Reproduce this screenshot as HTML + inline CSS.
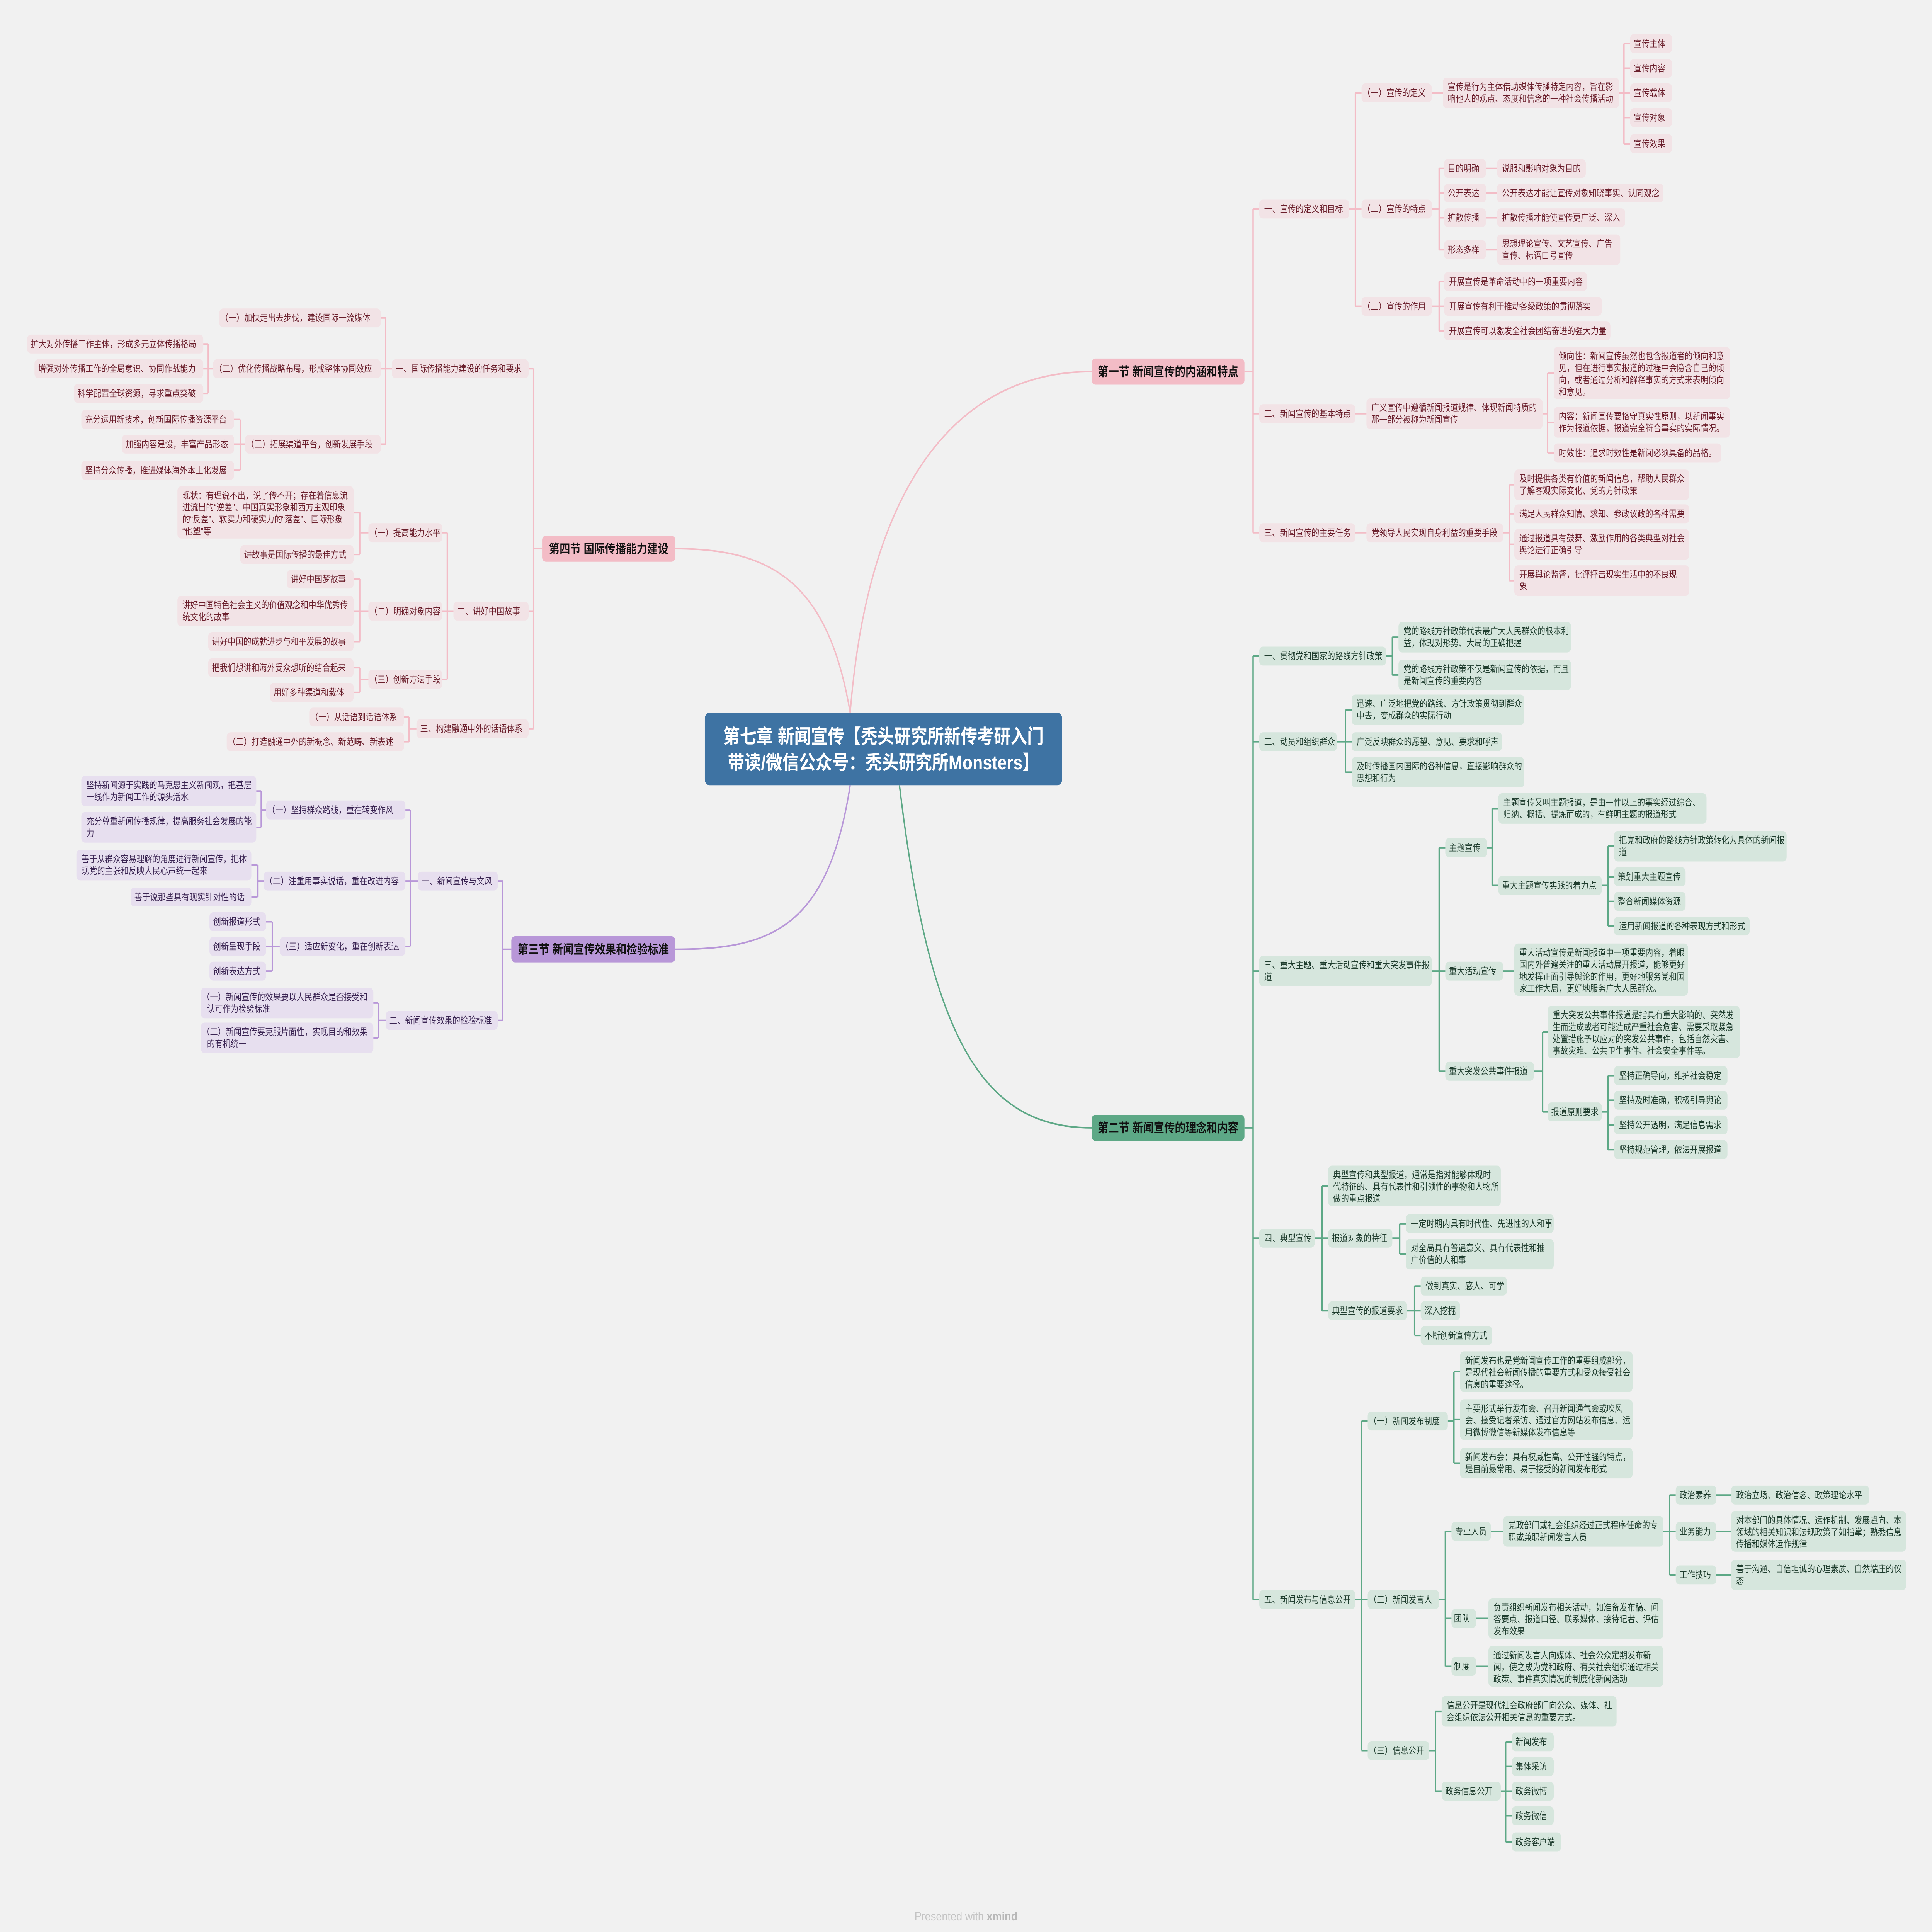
<!DOCTYPE html>
<html><head><meta charset="utf-8"><style>
html,body{margin:0;padding:0;background:#f1f1f1;width:100vw;height:100vh;overflow:hidden}
svg{display:block;overflow:hidden;width:100vw;height:100vh}
text{font-family:"Liberation Sans","Noto Sans CJK SC",sans-serif;font-size:6.4px}
.p rect{fill:#f2e3e6}.p text{fill:#6b1f2c}
.g rect{fill:#d6e6dd}.g text{fill:#1f3d2e}
.u rect{fill:#e7dfef}.u text{fill:#3b2553}
.lp{stroke:#f3bcc6;fill:none;stroke-width:1.1}
.lg{stroke:#5da886;fill:none;stroke-width:1.1}
.lu{stroke:#b897d8;fill:none;stroke-width:1.1}
.sec text{font-size:8.6px;font-weight:bold;fill:#111;text-anchor:middle}
</style></head><body>
<svg viewBox="0 0 1568 1331" preserveAspectRatio="none" xmlns="http://www.w3.org/2000/svg">
<rect width="1568" height="1331" fill="#f1f1f1"/>
<path class="lp" stroke-width="1.4" d="M690,491 C705,330 780,256 886,256"/>
<path class="lp" stroke-width="1.4" d="M690,491 C672,400 625,378 548,378"/>
<path class="lg" stroke-width="1.4" d="M730,541 C755,720 800,777 886,777"/>
<path class="lu" stroke-width="1.4" d="M690,541 C672,640 625,654 548,654"/>

<path class="lp" d="M1010,256H1017M1017,144V367M1017,144H1022M1017,285H1022M1017,367H1022
M1095,144H1100M1100,64V211M1100,64H1105M1100,144H1105M1100,211H1105
M1162,64H1171M1314,64H1318M1318,30V99M1318,30H1323M1318,47H1323M1318,64H1323M1318,81H1323M1318,99H1323
M1162,144H1168M1168,116V172M1168,116H1172M1168,133H1172M1168,150H1172M1168,172H1172
M1206,116H1215M1206,133H1215M1206,150H1215M1206,172H1215
M1162,211H1168M1168,194V228M1168,194H1172M1168,211H1172M1168,228H1172
M1100,285H1109M1252,285H1256M1256,257V312M1256,257H1261M1256,291H1261M1256,312H1261
M1100,367H1109M1220,367H1225M1225,334V400M1225,334H1229M1225,354H1229M1225,375H1229M1225,400H1229"/>
<path class="lg" d="M1010,777H1017M1017,452V1102M1017,452H1022M1017,511H1022M1017,669H1022M1017,853H1022M1017,1102H1022
M1125,452H1130M1130,439V465M1130,439H1135M1130,465H1135
M1085,511H1092M1092,489V532M1092,489H1097M1092,511H1097M1092,532H1097
M1162,669H1168M1168,584V738M1168,584H1173M1168,669H1173M1168,738H1173
M1207,584H1211M1211,557V610M1211,557H1216M1211,610H1216
M1300,610H1305M1305,583V638M1305,583H1310M1305,604H1310M1305,621H1310M1305,638H1310
M1220,669H1229
M1245,738H1252M1252,711V766M1252,711H1256M1252,766H1256
M1300,766H1305M1305,741V792M1305,741H1310M1305,758H1310M1305,775H1310M1305,792H1310
M1067,853H1073M1073,817V903M1073,817H1078M1073,853H1078M1073,903H1078
M1130,853H1136M1136,843V864M1136,843H1141M1136,864H1141
M1142,903H1148M1148,886V920M1148,886H1153M1148,903H1153M1148,920H1153
M1100,1102H1105M1105,979V1206M1105,979H1110M1105,1102H1110M1105,1206H1110
M1175,979H1180M1180,945V1008M1180,945H1185M1180,978H1185M1180,1008H1185
M1168,1102H1173M1173,1055V1148M1173,1055H1178M1173,1115H1178M1173,1148H1178
M1210,1055H1220M1350,1055H1355M1355,1030V1085M1355,1030H1360M1355,1055H1360M1355,1085H1360
M1393,1030H1405M1393,1055H1405M1393,1085H1405
M1198,1115H1208M1198,1148H1208
M1160,1206H1165M1165,1179V1234M1165,1179H1170M1165,1234H1170
M1218,1234H1222M1222,1200V1269M1222,1200H1227M1222,1217H1227M1222,1234H1227M1222,1251H1227M1222,1269H1227"/>
<path class="lu" d="M415,654H408M408,607V703M408,607H404M408,703H404
M339,607H333M333,558V652M333,558H329M333,607H329M333,652H329
M218,558H212M212,545V570M212,545H208M212,570H208
M216,607H209M209,596V618M209,596H204M209,618H204
M229,652H221M221,635V669M221,635H216M221,652H216M221,669H216
M313,703H307M307,691V715M307,691H303M307,715H303"/>
<path class="lp" d="M440,378H433M433,254V502M433,254H429M433,421H429M433,502H429
M318,254H313M313,219V306M313,219H309M313,254H309M313,306H309
M175,254H169M169,237V271M169,237H165M169,254H165M169,271H165
M201,306H195M195,289V324M195,289H190M195,306H190M195,324H190
M368,421H363M363,367V468M363,367H359M363,421H359M363,468H359
M299,367H292M292,353V382M292,353H287M292,382H287
M299,421H292M292,399V442M292,399H287M292,421H287M292,442H287
M299,468H292M292,460V477M292,460H287M292,477H287
M338,502H332M332,494V511M332,494H328M332,511H328"/>

<rect x="572" y="491" width="290" height="50" rx="4" fill="#3e73a3"/>
<text x="717" y="512" text-anchor="middle" style="font-size:13.5px;font-weight:bold;fill:#fff">第七章 新闻宣传【秃头研究所新传考研入门</text>
<text x="717" y="530" text-anchor="middle" style="font-size:13.5px;font-weight:bold;fill:#fff">带读/微信公众号：秃头研究所Monsters】</text>

<g class="sec">
<rect x="886" y="247" width="124" height="18" rx="3" fill="#f3bcc6"/><text x="948" y="259">第一节 新闻宣传的内涵和特点</text>
<rect x="886" y="768" width="124" height="18" rx="3" fill="#5da886"/><text x="948" y="780">第二节 新闻宣传的理念和内容</text>
<rect x="415" y="645" width="133" height="18" rx="3" fill="#b897d8"/><text x="481.5" y="657">第三节 新闻宣传效果和检验标准</text>
<rect x="440" y="369" width="108" height="18" rx="3" fill="#f3bcc6"/><text x="494" y="381">第四节 国际传播能力建设</text>
</g>

<g class="p">
<rect x="1022" y="137.5" width="73" height="13" rx="3"/><text x="1026" y="146.2">一、宣传的定义和目标</text>
<rect x="1105" y="57.5" width="57" height="13" rx="3"/><text x="1106" y="66.2">（一）宣传的定义</text>
<rect x="1171" y="53.5" width="143" height="21" rx="3"/><text x="1175" y="62">宣传是行为主体借助媒体传播特定内容，旨在影<tspan x="1175" dy="8.2">响他人的观点、态度和信念的一种社会传播活动</tspan></text>
<rect x="1323" y="23.5" width="34" height="13" rx="3"/><text x="1326" y="32.2">宣传主体</text>
<rect x="1323" y="40.5" width="34" height="13" rx="3"/><text x="1326" y="49.2">宣传内容</text>
<rect x="1323" y="57.5" width="34" height="13" rx="3"/><text x="1326" y="66.2">宣传载体</text>
<rect x="1323" y="74.5" width="34" height="13" rx="3"/><text x="1326" y="83.2">宣传对象</text>
<rect x="1323" y="92.5" width="34" height="13" rx="3"/><text x="1326" y="101.2">宣传效果</text>
<rect x="1105" y="137.5" width="57" height="13" rx="3"/><text x="1106" y="146.2">（二）宣传的特点</text>
<rect x="1172" y="109.5" width="34" height="13" rx="3"/><text x="1175" y="118.2">目的明确</text>
<rect x="1172" y="126.5" width="34" height="13" rx="3"/><text x="1175" y="135.2">公开表达</text>
<rect x="1172" y="143.5" width="34" height="13" rx="3"/><text x="1175" y="152.2">扩散传播</text>
<rect x="1172" y="165.5" width="34" height="13" rx="3"/><text x="1175" y="174.2">形态多样</text>
<rect x="1215" y="109.5" width="72" height="13" rx="3"/><text x="1219" y="118.2">说服和影响对象为目的</text>
<rect x="1215" y="126.5" width="135" height="13" rx="3"/><text x="1219" y="135.2">公开表达才能让宣传对象知晓事实、认同观念</text>
<rect x="1215" y="143.5" width="104" height="13" rx="3"/><text x="1219" y="152.2">扩散传播才能使宣传更广泛、深入</text>
<rect x="1215" y="161.5" width="100" height="21" rx="3"/><text x="1219" y="170">思想理论宣传、文艺宣传、广告<tspan x="1219" dy="8.2">宣传、标语口号宣传</tspan></text>
<rect x="1105" y="204.5" width="57" height="13" rx="3"/><text x="1106" y="213.2">（三）宣传的作用</text>
<rect x="1172" y="187.5" width="116" height="13" rx="3"/><text x="1176" y="196.2">开展宣传是革命活动中的一项重要内容</text>
<rect x="1172" y="204.5" width="128" height="13" rx="3"/><text x="1176" y="213.2">开展宣传有利于推动各级政策的贯彻落实</text>
<rect x="1172" y="221.5" width="135" height="13" rx="3"/><text x="1176" y="230.2">开展宣传可以激发全社会团结奋进的强大力量</text>
<rect x="1022" y="278.5" width="78" height="13" rx="3"/><text x="1026" y="287.2">二、新闻宣传的基本特点</text>
<rect x="1109" y="274.5" width="143" height="21" rx="3"/><text x="1113" y="283">广义宣传中遵循新闻报道规律、体现新闻特质的<tspan x="1113" dy="8.2">那一部分被称为新闻宣传</tspan></text>
<rect x="1261" y="239" width="143" height="36" rx="3"/><text x="1265" y="247.5">倾向性：新闻宣传虽然也包含报道者的倾向和意<tspan x="1265" dy="8.2">见，但在进行事实报道的过程中会隐含自己的倾</tspan><tspan x="1265" dy="8.2">向，或者通过分析和解释事实的方式来表明倾向</tspan><tspan x="1265" dy="8.2">和意见。</tspan></text>
<rect x="1261" y="280.5" width="143" height="21" rx="3"/><text x="1265" y="289">内容：新闻宣传要恪守真实性原则，以新闻事实<tspan x="1265" dy="8.2">作为报道依据，报道完全符合事实的实际情况。</tspan></text>
<rect x="1261" y="305.5" width="136" height="13" rx="3"/><text x="1265" y="314.2">时效性：追求时效性是新闻必须具备的品格。</text>
<rect x="1022" y="360.5" width="78" height="13" rx="3"/><text x="1026" y="369.2">三、新闻宣传的主要任务</text>
<rect x="1109" y="360.5" width="111" height="13" rx="3"/><text x="1113" y="369.2">党领导人民实现自身利益的重要手段</text>
<rect x="1229" y="323.5" width="142" height="21" rx="3"/><text x="1233" y="332">及时提供各类有价值的新闻信息，帮助人民群众<tspan x="1233" dy="8.2">了解客观实际变化、党的方针政策</tspan></text>
<rect x="1229" y="347.5" width="142" height="13" rx="3"/><text x="1233" y="356.2">满足人民群众知情、求知、参政议政的各种需要</text>
<rect x="1229" y="364.5" width="142" height="21" rx="3"/><text x="1233" y="373">通过报道具有鼓舞、激励作用的各类典型对社会<tspan x="1233" dy="8.2">舆论进行正确引导</tspan></text>
<rect x="1229" y="389.5" width="142" height="21" rx="3"/><text x="1233" y="398">开展舆论监督，批评抨击现实生活中的不良现<tspan x="1233" dy="8.2">象</tspan></text>
</g>

<g class="g">
<rect x="1022" y="445.5" width="103" height="13" rx="3"/><text x="1026" y="454.2">一、贯彻党和国家的路线方针政策</text>
<rect x="1135" y="428.5" width="140" height="21" rx="3"/><text x="1139" y="437">党的路线方针政策代表最广大人民群众的根本利<tspan x="1139" dy="8.2">益，体现对形势、大局的正确把握</tspan></text>
<rect x="1135" y="454.5" width="140" height="21" rx="3"/><text x="1139" y="463">党的路线方针政策不仅是新闻宣传的依据，而且<tspan x="1139" dy="8.2">是新闻宣传的重要内容</tspan></text>
<rect x="1022" y="504.5" width="63" height="13" rx="3"/><text x="1026" y="513.2">二、动员和组织群众</text>
<rect x="1097" y="478.5" width="140" height="21" rx="3"/><text x="1101" y="487">迅速、广泛地把党的路线、方针政策贯彻到群众<tspan x="1101" dy="8.2">中去，变成群众的实际行动</tspan></text>
<rect x="1097" y="504.5" width="122" height="13" rx="3"/><text x="1101" y="513.2">广泛反映群众的愿望、意见、要求和呼声</text>
<rect x="1097" y="521.5" width="140" height="21" rx="3"/><text x="1101" y="530">及时传播国内国际的各种信息，直接影响群众的<tspan x="1101" dy="8.2">思想和行为</tspan></text>
<rect x="1022" y="658.5" width="140" height="21" rx="3"/><text x="1026" y="667">三、重大主题、重大活动宣传和重大突发事件报<tspan x="1026" dy="8.2">道</tspan></text>
<rect x="1173" y="577.5" width="34" height="13" rx="3"/><text x="1176" y="586.2">主题宣传</text>
<rect x="1216" y="546.5" width="169" height="21" rx="3"/><text x="1220" y="555">主题宣传又叫主题报道，是由一件以上的事实经过综合、<tspan x="1220" dy="8.2">归纳、概括、提炼而成的，有鲜明主题的报道形式</tspan></text>
<rect x="1216" y="603.5" width="84" height="13" rx="3"/><text x="1219" y="612.2">重大主题宣传实践的着力点</text>
<rect x="1310" y="572.5" width="140" height="21" rx="3"/><text x="1314" y="581">把党和政府的路线方针政策转化为具体的新闻报<tspan x="1314" dy="8.2">道</tspan></text>
<rect x="1310" y="597.5" width="58" height="13" rx="3"/><text x="1313" y="606.2">策划重大主题宣传</text>
<rect x="1310" y="614.5" width="58" height="13" rx="3"/><text x="1313" y="623.2">整合新闻媒体资源</text>
<rect x="1310" y="631.5" width="110" height="13" rx="3"/><text x="1314" y="640.2">运用新闻报道的各种表现方式和形式</text>
<rect x="1173" y="662.5" width="47" height="13" rx="3"/><text x="1176" y="671.2">重大活动宣传</text>
<rect x="1229" y="650" width="141" height="36" rx="3"/><text x="1233" y="658.5">重大活动宣传是新闻报道中一项重要内容，着眼<tspan x="1233" dy="8.2">国内外普遍关注的重大活动展开报道，能够更好</tspan><tspan x="1233" dy="8.2">地发挥正面引导舆论的作用，更好地服务党和国</tspan><tspan x="1233" dy="8.2">家工作大局，更好地服务广大人民群众。</tspan></text>
<rect x="1173" y="731.5" width="72" height="13" rx="3"/><text x="1176" y="740.2">重大突发公共事件报道</text>
<rect x="1256" y="693" width="156" height="36" rx="3"/><text x="1260" y="701.5">重大突发公共事件报道是指具有重大影响的、突然发<tspan x="1260" dy="8.2">生而造成或者可能造成严重社会危害、需要采取紧急</tspan><tspan x="1260" dy="8.2">处置措施予以应对的突发公共事件，包括自然灾害、</tspan><tspan x="1260" dy="8.2">事故灾难、公共卫生事件、社会安全事件等。</tspan></text>
<rect x="1256" y="759.5" width="44" height="13" rx="3"/><text x="1259" y="768.2">报道原则要求</text>
<rect x="1310" y="734.5" width="92" height="13" rx="3"/><text x="1314" y="743.2">坚持正确导向，维护社会稳定</text>
<rect x="1310" y="751.5" width="92" height="13" rx="3"/><text x="1314" y="760.2">坚持及时准确，积极引导舆论</text>
<rect x="1310" y="768.5" width="92" height="13" rx="3"/><text x="1314" y="777.2">坚持公开透明，满足信息需求</text>
<rect x="1310" y="785.5" width="92" height="13" rx="3"/><text x="1314" y="794.2">坚持规范管理，依法开展报道</text>
<rect x="1022" y="846.5" width="45" height="13" rx="3"/><text x="1026" y="855.2">四、典型宣传</text>
<rect x="1078" y="803" width="140" height="28" rx="3"/><text x="1082" y="811.5">典型宣传和典型报道，通常是指对能够体现时<tspan x="1082" dy="8.2">代特征的、具有代表性和引领性的事物和人物所</tspan><tspan x="1082" dy="8.2">做的重点报道</tspan></text>
<rect x="1078" y="846.5" width="52" height="13" rx="3"/><text x="1081" y="855.2">报道对象的特征</text>
<rect x="1141" y="836.5" width="120" height="13" rx="3"/><text x="1145" y="845.2">一定时期内具有时代性、先进性的人和事</text>
<rect x="1141" y="853.5" width="120" height="21" rx="3"/><text x="1145" y="862">对全局具有普遍意义、具有代表性和推<tspan x="1145" dy="8.2">广价值的人和事</tspan></text>
<rect x="1078" y="896.5" width="64" height="13" rx="3"/><text x="1081" y="905.2">典型宣传的报道要求</text>
<rect x="1153" y="879.5" width="70" height="13" rx="3"/><text x="1157" y="888.2">做到真实、感人、可学</text>
<rect x="1153" y="896.5" width="32" height="13" rx="3"/><text x="1156" y="905.2">深入挖掘</text>
<rect x="1153" y="913.5" width="58" height="13" rx="3"/><text x="1156" y="922.2">不断创新宣传方式</text>
<rect x="1022" y="1095.5" width="78" height="13" rx="3"/><text x="1026" y="1104.2">五、新闻发布与信息公开</text>
<rect x="1110" y="972.5" width="65" height="13" rx="3"/><text x="1111" y="981.2">（一）新闻发布制度</text>
<rect x="1185" y="931" width="140" height="28" rx="3"/><text x="1189" y="939.5">新闻发布也是党新闻宣传工作的重要组成部分，<tspan x="1189" dy="8.2">是现代社会新闻传播的重要方式和受众接受社会</tspan><tspan x="1189" dy="8.2">信息的重要途径。</tspan></text>
<rect x="1185" y="964" width="140" height="28" rx="3"/><text x="1189" y="972.5">主要形式举行发布会、召开新闻通气会或吹风<tspan x="1189" dy="8.2">会、接受记者采访、通过官方网站发布信息、运</tspan><tspan x="1189" dy="8.2">用微博微信等新媒体发布信息等</tspan></text>
<rect x="1185" y="997.5" width="140" height="21" rx="3"/><text x="1189" y="1006">新闻发布会：具有权威性高、公开性强的特点，<tspan x="1189" dy="8.2">是目前最常用、易于接受的新闻发布形式</tspan></text>
<rect x="1110" y="1095.5" width="58" height="13" rx="3"/><text x="1111" y="1104.2">（二）新闻发言人</text>
<rect x="1178" y="1048.5" width="32" height="13" rx="3"/><text x="1181" y="1057.2">专业人员</text>
<rect x="1220" y="1044.5" width="130" height="21" rx="3"/><text x="1224" y="1053">党政部门或社会组织经过正式程序任命的专<tspan x="1224" dy="8.2">职或兼职新闻发言人员</tspan></text>
<rect x="1360" y="1023.5" width="33" height="13" rx="3"/><text x="1363" y="1032.2">政治素养</text>
<rect x="1360" y="1048.5" width="33" height="13" rx="3"/><text x="1363" y="1057.2">业务能力</text>
<rect x="1360" y="1078.5" width="33" height="13" rx="3"/><text x="1363" y="1087.2">工作技巧</text>
<rect x="1405" y="1023.5" width="112" height="13" rx="3"/><text x="1409" y="1032.2">政治立场、政治信念、政策理论水平</text>
<rect x="1405" y="1041" width="142" height="28" rx="3"/><text x="1409" y="1049.5">对本部门的具体情况、运作机制、发展趋向、本<tspan x="1409" dy="8.2">领域的相关知识和法规政策了如指掌；熟悉信息</tspan><tspan x="1409" dy="8.2">传播和媒体运作规律</tspan></text>
<rect x="1405" y="1074.5" width="142" height="21" rx="3"/><text x="1409" y="1083">善于沟通、自信坦诚的心理素质、自然端庄的仪<tspan x="1409" dy="8.2">态</tspan></text>
<rect x="1178" y="1108.5" width="20" height="13" rx="3"/><text x="1180" y="1117.2">团队</text>
<rect x="1208" y="1101" width="142" height="28" rx="3"/><text x="1212" y="1109.5">负责组织新闻发布相关活动，如准备发布稿、问<tspan x="1212" dy="8.2">答要点、报道口径、联系媒体、接待记者、评估</tspan><tspan x="1212" dy="8.2">发布效果</tspan></text>
<rect x="1178" y="1141.5" width="20" height="13" rx="3"/><text x="1180" y="1150.2">制度</text>
<rect x="1208" y="1134" width="142" height="28" rx="3"/><text x="1212" y="1142.5">通过新闻发言人向媒体、社会公众定期发布新<tspan x="1212" dy="8.2">闻，使之成为党和政府、有关社会组织通过相关</tspan><tspan x="1212" dy="8.2">政策、事件真实情况的制度化新闻活动</tspan></text>
<rect x="1110" y="1199.5" width="50" height="13" rx="3"/><text x="1111" y="1208.2">（三）信息公开</text>
<rect x="1170" y="1168.5" width="142" height="21" rx="3"/><text x="1174" y="1177">信息公开是现代社会政府部门向公众、媒体、社<tspan x="1174" dy="8.2">会组织依法公开相关信息的重要方式。</tspan></text>
<rect x="1170" y="1227.5" width="48" height="13" rx="3"/><text x="1173" y="1236.2">政务信息公开</text>
<rect x="1227" y="1193.5" width="34" height="13" rx="3"/><text x="1230" y="1202.2">新闻发布</text>
<rect x="1227" y="1210.5" width="34" height="13" rx="3"/><text x="1230" y="1219.2">集体采访</text>
<rect x="1227" y="1227.5" width="34" height="13" rx="3"/><text x="1230" y="1236.2">政务微博</text>
<rect x="1227" y="1244.5" width="34" height="13" rx="3"/><text x="1230" y="1253.2">政务微信</text>
<rect x="1227" y="1262.5" width="40" height="13" rx="3"/><text x="1230" y="1271.2">政务客户端</text>
</g>

<g class="u">
<rect x="339" y="600.5" width="65" height="13" rx="3"/><text x="342" y="609.2">一、新闻宣传与文风</text>
<rect x="216" y="551.5" width="113" height="13" rx="3"/><text x="217" y="560.2">（一）坚持群众路线，重在转变作风</text>
<rect x="66" y="534.5" width="142" height="21" rx="3"/><text x="70" y="543">坚持新闻源于实践的马克思主义新闻观，把基层<tspan x="70" dy="8.2">一线作为新闻工作的源头活水</tspan></text>
<rect x="66" y="559.5" width="142" height="21" rx="3"/><text x="70" y="568">充分尊重新闻传播规律，提高服务社会发展的能<tspan x="70" dy="8.2">力</tspan></text>
<rect x="214" y="600.5" width="115" height="13" rx="3"/><text x="215" y="609.2">（二）注重用事实说话，重在改进内容</text>
<rect x="62" y="585.5" width="142" height="21" rx="3"/><text x="66" y="594">善于从群众容易理解的角度进行新闻宣传，把体<tspan x="66" dy="8.2">现党的主张和反映人民心声统一起来</tspan></text>
<rect x="106" y="611.5" width="98" height="13" rx="3"/><text x="109" y="620.2">善于说那些具有现实针对性的话</text>
<rect x="227" y="645.5" width="102" height="13" rx="3"/><text x="228" y="654.2">（三）适应新变化，重在创新表达</text>
<rect x="170" y="628.5" width="46" height="13" rx="3"/><text x="173" y="637.2">创新报道形式</text>
<rect x="170" y="645.5" width="46" height="13" rx="3"/><text x="173" y="654.2">创新呈现手段</text>
<rect x="170" y="662.5" width="46" height="13" rx="3"/><text x="173" y="671.2">创新表达方式</text>
<rect x="313" y="696.5" width="91" height="13" rx="3"/><text x="316" y="705.2">二、新闻宣传效果的检验标准</text>
<rect x="163" y="680.5" width="140" height="21" rx="3"/><text x="164" y="689">（一）新闻宣传的效果要以人民群众是否接受和<tspan x="168" dy="8.2">认可作为检验标准</tspan></text>
<rect x="163" y="704.5" width="140" height="21" rx="3"/><text x="164" y="713">（二）新闻宣传要克服片面性，实现目的和效果<tspan x="168" dy="8.2">的有机统一</tspan></text>
</g>

<g class="p">
<rect x="318" y="247.5" width="111" height="13" rx="3"/><text x="321" y="256.2">一、国际传播能力建设的任务和要求</text>
<rect x="178" y="212.5" width="131" height="13" rx="3"/><text x="179" y="221.2">（一）加快走出去步伐，建设国际一流媒体</text>
<rect x="173" y="247.5" width="136" height="13" rx="3"/><text x="174" y="256.2">（二）优化传播战略布局，形成整体协同效应</text>
<rect x="22" y="230.5" width="143" height="13" rx="3"/><text x="25" y="239.2">扩大对外传播工作主体，形成多元立体传播格局</text>
<rect x="28" y="247.5" width="137" height="13" rx="3"/><text x="31" y="256.2">增强对外传播工作的全局意识、协同作战能力</text>
<rect x="60" y="264.5" width="105" height="13" rx="3"/><text x="63" y="273.2">科学配置全球资源，寻求重点突破</text>
<rect x="199" y="299.5" width="110" height="13" rx="3"/><text x="200" y="308.2">（三）拓展渠道平台，创新发展手段</text>
<rect x="66" y="282.5" width="124" height="13" rx="3"/><text x="69" y="291.2">充分运用新技术，创新国际传播资源平台</text>
<rect x="99" y="299.5" width="91" height="13" rx="3"/><text x="102" y="308.2">加强内容建设，丰富产品形态</text>
<rect x="66" y="317.5" width="124" height="13" rx="3"/><text x="69" y="326.2">坚持分众传播，推进媒体海外本土化发展</text>
<rect x="368" y="414.5" width="61" height="13" rx="3"/><text x="371" y="423.2">二、讲好中国故事</text>
<rect x="299" y="360.5" width="60" height="13" rx="3"/><text x="300" y="369.2">（一）提高能力水平</text>
<rect x="144" y="335" width="143" height="36" rx="3"/><text x="148" y="343.5">现状：有理说不出，说了传不开；存在着信息流<tspan x="148" dy="8.2">进流出的“逆差”、中国真实形象和西方主观印象</tspan><tspan x="148" dy="8.2">的“反差”、软实力和硬实力的“落差”、国际形象</tspan><tspan x="148" dy="8.2">“他塑”等</tspan></text>
<rect x="195" y="375.5" width="92" height="13" rx="3"/><text x="198" y="384.2">讲故事是国际传播的最佳方式</text>
<rect x="299" y="414.5" width="60" height="13" rx="3"/><text x="300" y="423.2">（二）明确对象内容</text>
<rect x="233" y="392.5" width="54" height="13" rx="3"/><text x="236" y="401.2">讲好中国梦故事</text>
<rect x="144" y="410.5" width="143" height="21" rx="3"/><text x="148" y="419">讲好中国特色社会主义的价值观念和中华优秀传<tspan x="148" dy="8.2">统文化的故事</tspan></text>
<rect x="169" y="435.5" width="118" height="13" rx="3"/><text x="172" y="444.2">讲好中国的成就进步与和平发展的故事</text>
<rect x="299" y="461.5" width="60" height="13" rx="3"/><text x="300" y="470.2">（三）创新方法手段</text>
<rect x="169" y="453.5" width="118" height="13" rx="3"/><text x="172" y="462.2">把我们想讲和海外受众想听的结合起来</text>
<rect x="219" y="470.5" width="68" height="13" rx="3"/><text x="222" y="479.2">用好多种渠道和载体</text>
<rect x="338" y="495.5" width="91" height="13" rx="3"/><text x="341" y="504.2">三、构建融通中外的话语体系</text>
<rect x="251" y="487.5" width="77" height="13" rx="3"/><text x="252" y="496.2">（一）从话语到话语体系</text>
<rect x="184" y="504.5" width="144" height="13" rx="3"/><text x="185" y="513.2">（二）打造融通中外的新概念、新范畴、新表述</text>
</g>

<text x="784" y="1323" text-anchor="middle" style="font-size:8.5px;fill:#c4c4c4">Presented with <tspan style="font-weight:bold;fill:#b8b8b8">xmind</tspan></text>
</svg>
</body></html>
